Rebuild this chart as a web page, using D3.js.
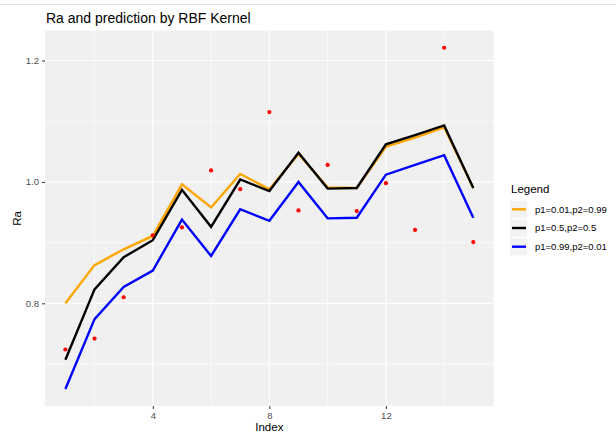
<!DOCTYPE html>
<html>
<head>
<meta charset="utf-8">
<script src="https://cdn.jsdelivr.net/npm/d3@7"></script>
<style>
  body { margin: 0; background: #fff; }
  svg { display: block; font-family: "Liberation Sans", Arial, sans-serif; }
</style>
</head>
<body>
<svg id="chart" width="616" height="436"></svg>
<script>
// --- data ---
const index = [1, 2, 3, 4, 5, 6, 7, 8, 9, 10, 11, 12, 13, 14, 15];
const ra    = [0.724, 0.742, 0.810, 0.912, 0.925, 1.019, 0.988, 1.115, 0.953, 1.028, 0.952, 0.998, 0.921, 1.221, 0.901];
const predA = [0.800, 0.863, 0.889, 0.911, 0.996, 0.958, 1.013, 0.988, 1.046, 0.991, 0.990, 1.058, 1.073, 1.090, 0.990]; // p1=0.01,p2=0.99
const predB = [0.707, 0.823, 0.876, 0.904, 0.987, 0.926, 1.004, 0.985, 1.048, 0.989, 0.990, 1.062, 1.077, 1.093, 0.990]; // p1=0.5,p2=0.5
const predC = [0.659, 0.774, 0.827, 0.854, 0.938, 0.878, 0.955, 0.936, 1.000, 0.940, 0.941, 1.012, 1.028, 1.044, 0.941]; // p1=0.99,p2=0.01
const seriesNames = ['p1=0.01,p2=0.99', 'p1=0.5,p2=0.5', 'p1=0.99,p2=0.01'];
const seriesColors = ['#FFA500', '#000000', '#0000FF'];
const xTicks = [4, 8, 12];
const yTicks = [0.8, 1.0, 1.2];

const svg = d3.select('#chart');
const W = 616, H = 436;
const panel = {left: 45, top: 30.7, right: 493.7, bottom: 406};

// faint separator line at very top of the screenshot
svg.append('line').attr('x1', 0).attr('x2', W).attr('y1', 4.5).attr('y2', 4.5)
    .attr('stroke', '#dfe5ec').attr('stroke-width', 1);

// ggplot-style 5% expansion
const xr = d3.extent(index), xpad = (xr[1] - xr[0]) * 0.05;
const allY = ra.concat(predA, predB, predC);
const yr = d3.extent(allY), ypad = (yr[1] - yr[0]) * 0.05;

const x = d3.scaleLinear().domain([xr[0] - xpad, xr[1] + xpad]).range([panel.left, panel.right]);
const y = d3.scaleLinear().domain([yr[0] - ypad, yr[1] + ypad]).range([panel.bottom, panel.top]);

const g = svg.append('g');

g.append('rect')
    .attr('x', panel.left).attr('y', panel.top)
    .attr('width', panel.right - panel.left).attr('height', panel.bottom - panel.top)
    .attr('fill', '#f0f0f0');

// minor grid
const xMinor = [2, 6, 10, 14];
const yMinor = [0.7, 0.9, 1.1];
g.selectAll('.xminor').data(xMinor).join('line')
    .attr('x1', d => x(d)).attr('x2', d => x(d)).attr('y1', panel.top).attr('y2', panel.bottom)
    .attr('stroke', '#fff').attr('stroke-width', 0.6);
g.selectAll('.yminor').data(yMinor).join('line')
    .attr('x1', panel.left).attr('x2', panel.right).attr('y1', d => y(d)).attr('y2', d => y(d))
    .attr('stroke', '#fff').attr('stroke-width', 0.6);
// major grid
g.selectAll('.xmajor').data(xTicks).join('line')
    .attr('x1', d => x(d)).attr('x2', d => x(d)).attr('y1', panel.top).attr('y2', panel.bottom)
    .attr('stroke', '#fff').attr('stroke-width', 1.2);
g.selectAll('.ymajor').data(yTicks).join('line')
    .attr('x1', panel.left).attr('x2', panel.right).attr('y1', d => y(d)).attr('y2', d => y(d))
    .attr('stroke', '#fff').attr('stroke-width', 1.2);

// axes
const xAxis = g.append('g').attr('transform', `translate(0,${panel.bottom})`)
    .call(d3.axisBottom(x).tickValues(xTicks).tickSize(3).tickPadding(3).tickFormat(d3.format('d')));
const yAxis = g.append('g').attr('transform', `translate(${panel.left},0)`)
    .call(d3.axisLeft(y).tickValues(yTicks).tickSize(3).tickPadding(3).tickFormat(d3.format('.1f')));
[xAxis, yAxis].forEach(a => {
    a.select('.domain').remove();
    a.selectAll('line').attr('stroke', '#333').attr('stroke-width', 1);
    a.selectAll('text').attr('fill', '#4d4d4d').style('font-size', '9.5px').style('font-family', '"Liberation Sans", Arial, sans-serif');
});

// lines
const line = d3.line().x((d, i) => x(index[i])).y(d => y(d));
[predA, predB, predC].forEach((s, k) => {
    g.append('path').datum(s)
        .attr('fill', 'none').attr('stroke', seriesColors[k]).attr('stroke-width', 2.4)
        .attr('stroke-linejoin', 'miter').attr('d', line);
});

// points
g.selectAll('.pt').data(ra).join('circle')
    .attr('cx', (d, i) => x(index[i])).attr('cy', d => y(d)).attr('r', 2.1).attr('fill', '#FF0000');

// titles
svg.append('text').attr('x', 46).attr('y', 22.5)
    .style('font-size', '14px').attr('fill', '#000').text('Ra and prediction by RBF Kernel');
svg.append('text').attr('x', (panel.left + panel.right) / 2).attr('y', 431)
    .attr('text-anchor', 'middle').style('font-size', '11.5px').attr('fill', '#000').text('Index');
svg.append('text').attr('transform', `translate(21,${(panel.top + panel.bottom) / 2}) rotate(-90)`)
    .attr('text-anchor', 'middle').style('font-size', '11.5px').attr('fill', '#000').text('Ra');

// legend
const lg = svg.append('g').attr('transform', 'translate(510,0)');
lg.append('text').attr('x', 1).attr('y', 193).style('font-size', '11.5px').attr('fill', '#000').text('Legend');
seriesNames.forEach((name, k) => {
    const cy = 209.3 + k * 18.7;
    lg.append('rect').attr('x', 0).attr('y', cy - 8.6).attr('width', 17.3).attr('height', 17.3).attr('fill', '#f2f2f2');
    lg.append('line').attr('x1', 2).attr('x2', 16).attr('y1', cy).attr('y2', cy)
        .attr('stroke', seriesColors[k]).attr('stroke-width', 2.4);
    lg.append('text').attr('x', 25).attr('y', cy + 3.3).style('font-size', '9.5px').attr('fill', '#000').text(name);
});
</script>
</body>
</html>
